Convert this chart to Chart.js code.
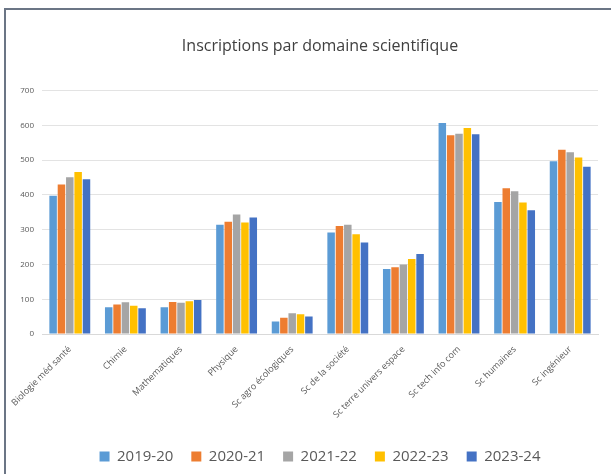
<!DOCTYPE html>
<html>
<head>
<meta charset="utf-8">
<script src="https://cdn.jsdelivr.net/npm/chart.js@4"></script>
<style>
  html, body { margin: 0; padding: 0; background: #fff; }
  #wrap {
    position: absolute; left: 4px; top: 8px; width: 607px; height: 466px;
    border-top: 2px solid #6b7585; border-left: 2px solid #6b7585;
    box-sizing: border-box;
  }
  #box { position: absolute; left: 0; top: 0; width: 611px; height: 474px; }
</style>
</head>
<body>
<div id="wrap"></div>
<div id="box"><canvas id="chart" width="611" height="474"></canvas></div>
<script>
const domaines = ['Biologie méd santé', 'Chimie', 'Mathematiques', 'Physique', 'Sc agro écologiques',
  'Sc de la société', 'Sc terre univers espace', 'Sc tech info com', 'Sc humaines', 'Sc ingénieur'];
const annees = ['2019-20', '2020-21', '2021-22', '2022-23', '2023-24'];
const v2019 = [398, 77, 77, 314, 36, 292, 187, 607, 380, 497];
const v2020 = [430, 85, 92, 323, 47, 311, 192, 572, 419, 530];
const v2021 = [451, 91, 90, 344, 60, 314, 200, 576, 411, 523];
const v2022 = [466, 81, 94, 321, 57, 287, 216, 593, 378, 508];
const v2023 = [445, 74, 98, 335, 50, 263, 230, 575, 356, 481];
const couleurs = ['#5B9BD5', '#ED7D31', '#A5A5A5', '#FFC000', '#4472C4'];

const series = [v2019, v2020, v2021, v2022, v2023];

new Chart(document.getElementById('chart'), {
  type: 'bar',
  data: {
    labels: domaines,
    datasets: series.map((d, i) => ({
      label: annees[i],
      data: d,
      backgroundColor: couleurs[i],
      borderWidth: 0,
      categoryPercentage: 0.75,
      barPercentage: 0.9
    }))
  },
  options: {
    responsive: false,
    animation: false,
    layout: { padding: { left: 0, right: 13, top: 0, bottom: 0 } },
    plugins: {
      title: {
        display: true,
        fullSize: false,
        text: 'Inscriptions par domaine scientifique',
        color: '#404040',
        font: { family: 'Open Sans', size: 16, weight: 'normal' },
        padding: { top: 36.5, bottom: 35 }
      },
      legend: {
        position: 'bottom',
        fullSize: false,
        labels: {
          color: '#595959',
          font: { family: 'Open Sans', size: 15 },
          boxWidth: 10,
          boxHeight: 10,
          padding: 18
        }
      },
      tooltip: { enabled: false }
    },
    scales: {
      x: {
        grid: { display: false },
        border: { color: '#d9d9d9' },
        ticks: {
          color: '#595959',
          font: { family: 'Open Sans', size: 9 },
          minRotation: 45,
          maxRotation: 45,
          autoSkip: false,
          padding: 2
        },
        afterFit: s => { s.height = 97; }
      },
      y: {
        min: 0,
        max: 700,
        grid: { color: '#e3e3e3', drawTicks: false },
        border: { display: false },
        ticks: {
          stepSize: 100,
          color: '#595959',
          font: { family: 'Open Sans', size: 8 },
          padding: 8
        },
        afterFit: s => { s.width = 42; }
      }
    }
  }
});
</script>
</body>
</html>
